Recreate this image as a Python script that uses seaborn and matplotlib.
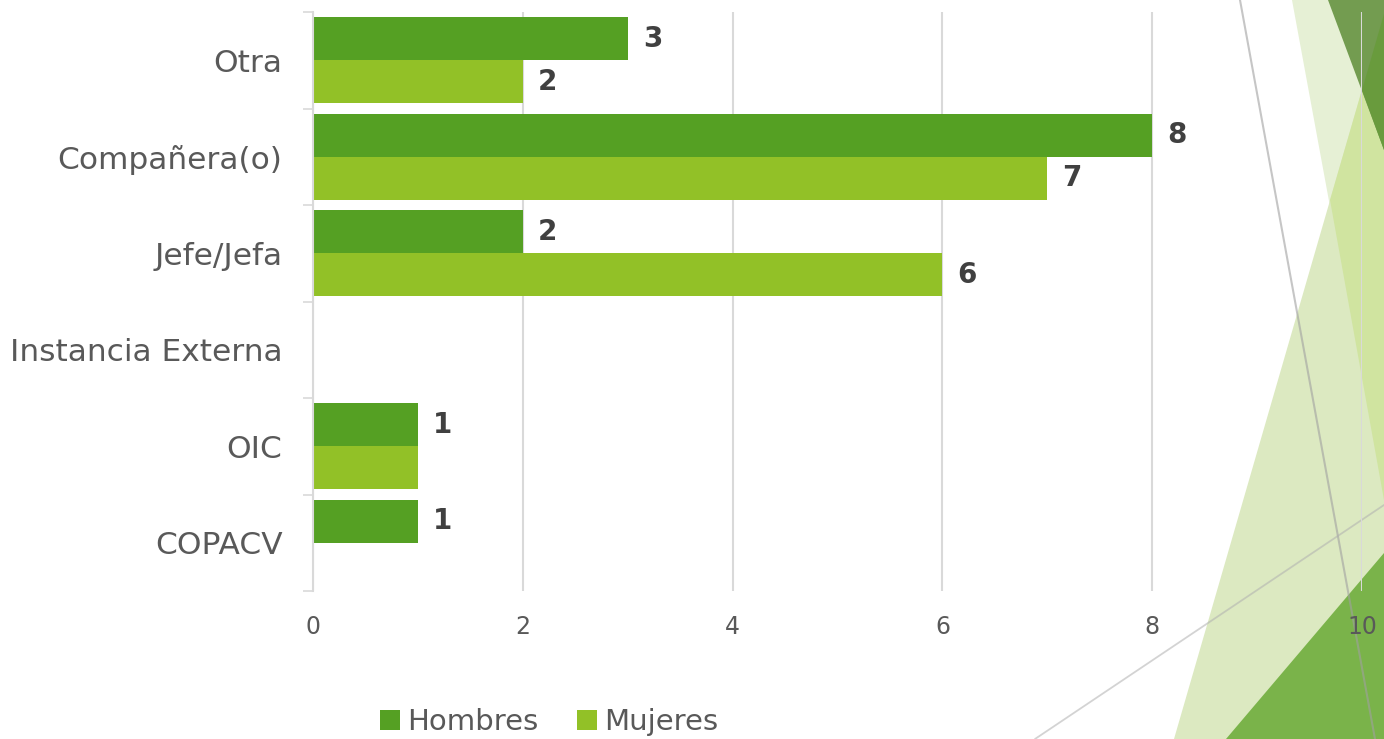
import matplotlib
matplotlib.use("Agg")
import matplotlib.pyplot as plt
from matplotlib.patches import Polygon, Patch
from matplotlib.lines import Line2D
from matplotlib.ticker import FixedLocator
import seaborn as sns
import pandas as pd

# ---------------- data ----------------
categorias = ["Otra", "Compañera(o)", "Jefe/Jefa", "Instancia Externa", "OIC", "COPACV"]
hombres = [3, 8, 2, 0, 1, 1]
mujeres = [2, 7, 6, 0, 1, 0]
series = ["Hombres", "Mujeres"]
colores = ["#55a023", "#92c127"]
etiquetas_hombres = ["3", "8", "2", "", "1", "1"]
etiquetas_mujeres = ["2", "7", "6", "", "", ""]
x_ticks = [0, 2, 4, 6, 8, 10]

df = pd.DataFrame({
    "categoria": categorias * 2,
    "valor": hombres + mujeres,
    "sexo": [series[0]] * len(categorias) + [series[1]] * len(categorias),
})

# ---------------- figure ----------------
sns.set_theme(style="white")
plt.rcParams["font.family"] = ["DejaVu Sans"]

W, H = 1384, 739
fig = plt.figure(figsize=(W / 100, H / 100), dpi=100, facecolor="white")
ax = fig.add_axes([313 / W, 1 - 591 / H, (1362 - 313) / W, (591 - 12) / H])
ax.set_facecolor("none")

# decorative background shapes (slide design)
def px(points):
    return [(x / W, 1 - y / H) for x, y in points]

shapes = [
    ([(1292, 0), (1384, 0), (1384, 500)], "#e6f0d5"),
    ([(1174, 739), (1384, 14), (1384, 739)], "#dce9c1"),
    ([(1330, 200), (1384, 14), (1384, 500)], "#d0e4a0"),
    ([(1328, 0), (1384, 0), (1384, 150)], "#739c50"),
    ([(1362, 90), (1384, 14), (1384, 150)], "#699b3d"),
    ([(1226, 739), (1384, 553), (1384, 739)], "#7ab34a"),
]
for pts, c in shapes:
    fig.patches.append(Polygon(px(pts), closed=True, transform=fig.transFigure,
                               facecolor=c, edgecolor="none", zorder=-2))
for (x0, y0, x1, y1), c, lw, a in [((1240, 0, 1375, 739), "#a0a0a0", 1.5, 0.6),
                                   ((1035, 739, 1384, 505), "#b0b0b0", 1.3, 0.55)]:
    fig.lines.append(Line2D([x0 / W, x1 / W], [1 - y0 / H, 1 - y1 / H],
                            transform=fig.transFigure, color=c, lw=lw, alpha=a, zorder=-1))

# ---------------- bars ----------------
sns.barplot(data=df, x="valor", y="categoria", hue="sexo", orient="h",
            order=categorias, hue_order=series, palette=colores,
            width=0.89, ax=ax, legend=False, saturation=1, errorbar=None,
            linewidth=0, edgecolor="none")

for cont, labs in zip(ax.containers, [etiquetas_hombres, etiquetas_mujeres]):
    ax.bar_label(cont, labels=labs, padding=11, fontsize=20, fontweight="bold",
                 color="#404040")

# ---------------- axes styling ----------------
ax.set_xlim(0, 10)
ax.set_ylim(len(categorias) - 0.5, -0.5)
ax.set_xticks(x_ticks)
ax.set_xticklabels([str(t) for t in x_ticks])
ax.set_xlabel("")
ax.set_ylabel("")
ax.grid(axis="x", color="#d9d9d9", lw=1.5)
ax.grid(axis="y", visible=False)
ax.set_axisbelow(True)
for s in ["top", "right", "bottom"]:
    ax.spines[s].set_visible(False)
ax.spines["left"].set_color("#d9d9d9")
ax.spines["left"].set_linewidth(1.5)

ax.tick_params(axis="x", length=0, pad=17, labelsize=17, labelcolor="#595959")
ax.tick_params(axis="y", which="major", length=0, pad=22, labelsize=22.5,
               labelcolor="#595959")
ax.yaxis.set_minor_locator(FixedLocator([i - 0.5 for i in range(len(categorias) + 1)]))
ax.tick_params(axis="y", which="minor", length=7, width=1.2, color="#d9d9d9", left=True)

# ---------------- legend ----------------
handles = [Patch(facecolor=c, edgecolor="none") for c in colores]
fig.legend(handles, series, loc="center", bbox_to_anchor=(549 / W, 1 - 722 / H),
           ncol=2, frameon=False, fontsize=21, labelcolor="#595959",
           handlelength=0.7, handleheight=0.7, handletextpad=0.25, columnspacing=1.3)

fig.savefig("out.png", dpi=100, facecolor="white")
